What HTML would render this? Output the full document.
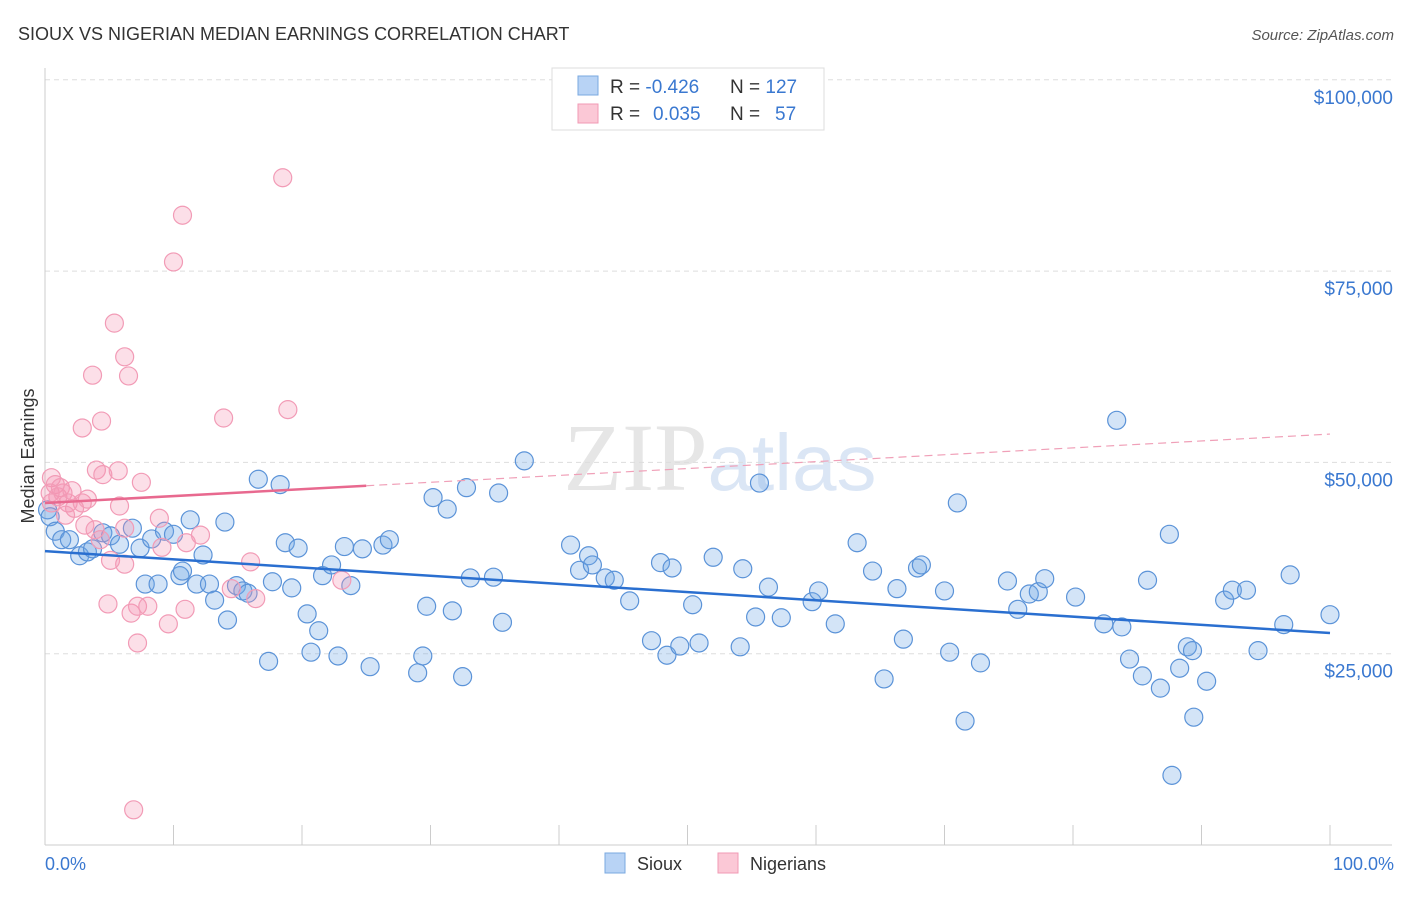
<!DOCTYPE html>
<html><head><meta charset="utf-8"><style>
body{margin:0;background:#fff;font-family:"Liberation Sans",sans-serif;}
</style></head><body>
<svg width="1406" height="892" xmlns="http://www.w3.org/2000/svg">
<text x="18" y="40" font-size="18" fill="#333">SIOUX VS NIGERIAN MEDIAN EARNINGS CORRELATION CHART</text>
<text x="1394" y="40" font-size="15" fill="#555" font-style="italic" text-anchor="end">Source: ZipAtlas.com</text>
<text x="720" y="490" font-size="96" fill="#e6e6e6" text-anchor="middle" font-family="Liberation Serif">ZIP<tspan fill="#dbe6f5" font-family="Liberation Sans" font-size="80">atlas</tspan></text>
<g id="grid"></g>
<line x1="45" y1="68" x2="45" y2="845" stroke="#ccc"/>
<line x1="45" y1="845" x2="1392" y2="845" stroke="#ccc"/>
<text x="34" y="456" font-size="18" fill="#333" text-anchor="middle" transform="rotate(-90 34 456)">Median Earnings</text>
<text x="45" y="870" font-size="18" fill="#3a78d0">0.0%</text>
<text x="1394" y="870" font-size="18" fill="#3a78d0" text-anchor="end">100.0%</text>
<g id="pts"></g>
<g id="trends"></g>
<g>
<rect x="552" y="68" width="272" height="62" fill="#fff" stroke="#ddd"/>
<rect x="578" y="76" width="20" height="19" fill="#b8d3f5" stroke="#7aa8e0"/>
<rect x="578" y="104" width="20" height="19" fill="#fbc8d6" stroke="#f09ab4"/>
<text x="610" y="93" font-size="19" fill="#333">R = <tspan fill="#3a78d0">-0.426</tspan><tspan x="730">N = </tspan><tspan fill="#3a78d0">127</tspan></text>
<text x="610" y="120" font-size="19" fill="#333">R = <tspan fill="#3a78d0" x="653">0.035</tspan><tspan x="730">N = </tspan><tspan fill="#3a78d0" x="775">57</tspan></text>
</g>
<g>
<rect x="605" y="853" width="20" height="20" fill="#b8d3f5" stroke="#7aa8e0"/>
<text x="637" y="870" font-size="18" fill="#333">Sioux</text>
<rect x="718" y="853" width="20" height="20" fill="#fbc8d6" stroke="#f09ab4"/>
<text x="750" y="870" font-size="18" fill="#333">Nigerians</text>
</g>
</svg>
<script>
const yTicks=[25000,50000,75000,100000];
const yTickLabels=["$25,000","$50,000","$75,000","$100,000"];
const xTicks=[0,10,20,30,40,50,60,70,80,90,100];
const siouxX=[0.2,0.4,0.8,1.3,1.9,2.7,3.3,3.7,4.5,5.1,5.8,6.8,7.4,7.8,8.3,8.8,9.3,10.0,10.5,10.7,11.3,11.8,12.3,12.8,13.2,14.0,14.2,14.9,15.4,15.8,16.6,17.4,17.7,18.3,18.7,19.2,19.7,20.4,20.7,21.3,21.6,22.3,22.8,23.3,23.8,24.7,25.3,26.3,26.8,29.0,29.4,29.7,30.2,31.3,31.7,32.5,32.8,33.1,34.9,35.3,35.6,37.3,40.9,41.6,42.3,42.6,43.6,44.3,45.5,47.2,47.9,48.4,48.8,49.4,50.4,50.9,52.0,54.1,54.3,55.3,55.6,56.3,57.3,59.7,60.2,61.5,63.2,64.4,65.3,66.3,66.8,67.9,68.2,70.0,70.4,71.0,71.6,72.8,74.9,75.7,76.6,77.3,77.8,80.2,82.4,83.4,83.8,84.4,85.4,85.8,86.8,87.5,87.7,88.3,88.9,89.3,89.4,90.4,91.8,92.4,93.5,94.4,96.4,96.9,100];
const siouxY=[43800,42900,41000,39900,39900,37800,38300,38700,40800,40400,39300,41400,38800,34100,40000,34100,41000,40600,35200,35800,42500,34100,37900,34100,32000,42200,29400,33900,33200,32900,47800,24000,34400,47100,39500,33600,38800,30200,25200,28000,35200,36600,24700,39000,33900,38700,23300,39200,39900,22500,24700,31200,45400,43900,30600,22000,46700,34900,35000,46000,29100,50200,39200,35900,37800,36600,34900,34600,31900,26700,36900,24800,36200,26000,31400,26400,37600,25900,36100,29800,47300,33700,29700,31800,33200,28900,39500,35800,21700,33500,26900,36200,36600,33200,25200,44700,16200,23800,34500,30800,32800,33100,34800,32400,28900,55500,28500,24300,22100,34600,20500,40600,9100,23100,25900,25400,16700,21400,32000,33300,33300,25400,28800,35300,30100];
const nigX=[0.5,0.8,1.2,0.4,1.0,0.5,1.4,1.8,2.3,2.9,3.3,2.1,2.9,3.7,4.0,4.4,4.5,4.9,5.4,5.7,5.8,6.2,6.5,6.2,6.7,7.2,7.2,7.5,8.0,8.9,9.1,10.0,10.7,10.9,9.6,11.0,12.1,13.9,14.5,16.0,16.4,18.5,18.9,23.1,6.9,3.1,4.3,5.1,3.9,1.6,6.2];
const nigY=[48000,47100,46700,46000,45500,44700,46000,44700,44000,44700,45200,46300,54500,61400,49000,55400,48400,31500,68200,48900,44300,63800,61300,36700,30300,31200,26400,47400,31200,42700,38900,76200,82300,30800,28900,39500,40500,55800,33500,37000,32200,87200,56900,34600,4600,41800,39900,37200,41200,43100,41400];
const siouxTrend=[38400,27700];
const nigTrend=[44700,53700];
const sx=v=>45+v*12.85, sy=v=>845-v*191.3/25000;
const NS='http://www.w3.org/2000/svg';
function mk(t,a,p){const e=document.createElementNS(NS,t);for(const k in a)e.setAttribute(k,a[k]);p.appendChild(e);return e;}
const grid=document.getElementById('grid');
yTicks.forEach((v,i)=>{
 const l=mk('line',{x1:45,x2:1392,y1:sy(v),y2:sy(v),stroke:'#ddd','stroke-dasharray':'5,4'},grid);
 
 
 const t=mk('text',{x:1393,y:sy(v)+24,'font-size':19,fill:'#3a78d0','text-anchor':'end'},grid);
 t.textContent=yTickLabels[i];
 
 
});
xTicks.forEach(v=>{
 const l=mk('line',{x1:sx(v),x2:sx(v),y1:825,y2:845,stroke:'#ccc'},grid);
 
 
});
const pts=document.getElementById('pts');
siouxX.forEach((x,i)=>{
 const c=mk('circle',{cx:sx(x),cy:sy(siouxY[i]),r:9,fill:'rgba(110,165,230,0.3)',stroke:'#5b93d8','stroke-width':1.2},pts);
 
 
});
nigX.forEach((x,i)=>{
 const c=mk('circle',{cx:sx(x),cy:sy(nigY[i]),r:9,fill:'rgba(245,150,180,0.3)',stroke:'#f29bb6','stroke-width':1.2},pts);
 
 
});
const tr=document.getElementById('trends');
const b=mk('line',{x1:sx(0),y1:sy(siouxTrend[0]),x2:sx(100),y2:sy(siouxTrend[1]),stroke:'#2a6fd0','stroke-width':2.5},tr);


const mid=nigTrend[0]+(nigTrend[1]-nigTrend[0])*0.25;
const p1=mk('line',{x1:sx(0),y1:sy(nigTrend[0]),x2:sx(25),y2:sy(mid),stroke:'#e8698f','stroke-width':2.5},tr);


const p2=mk('line',{x1:sx(25),y1:sy(mid),x2:sx(100),y2:sy(nigTrend[1]),stroke:'#f0a0b8','stroke-width':1.2,'stroke-dasharray':'8,5'},tr);


</script>
</body></html>
